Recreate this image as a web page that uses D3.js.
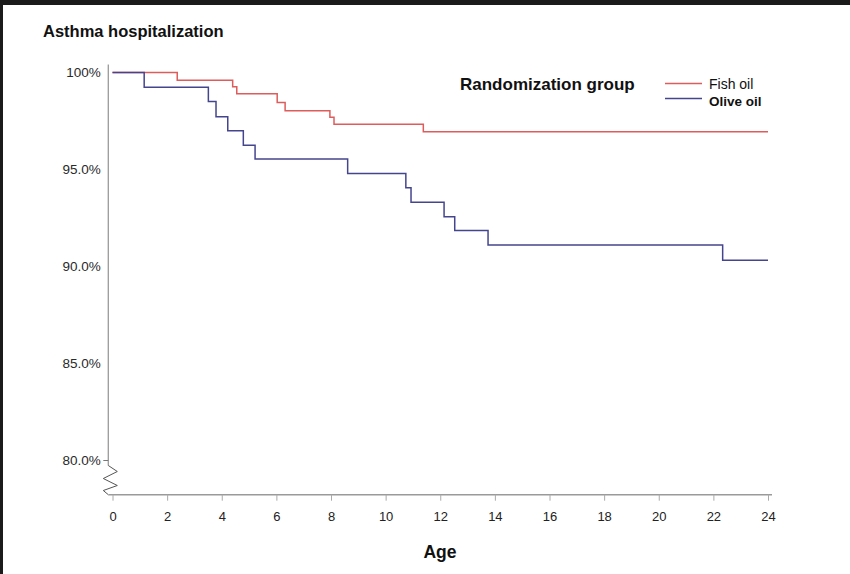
<!DOCTYPE html>
<html>
<head>
<meta charset="utf-8">
<script src="https://cdn.jsdelivr.net/npm/d3@7"></script>
<style>
	body { margin: 0; background: #1b1b1b; }
	svg { display: block; }
	text { font-family: "Liberation Sans", Arial, sans-serif; }
</style>
</head>
<body>
<figure id="asthmaKM" style="margin:0"></figure>
<script>
// ages where a step happens, and survival (% free of hospitalization) after the step
var fishAge = [ 0, 2.37, 4.40, 4.55, 6.03, 6.32, 7.96, 8.11, 11.38, 24 ];
var fishPct = [ 100, 99.60, 99.27, 98.90, 98.46, 98.03, 97.69, 97.33, 96.95, 96.95 ];

var oliveAge = [ 0, 1.16, 3.51, 3.79, 4.22, 4.79, 5.22, 8.61, 10.74, 10.93, 12.14, 12.53, 13.75, 22.34, 24 ];
var olivePct = [ 100, 99.24, 98.50, 97.72, 97.00, 96.25, 95.54, 94.80, 94.06, 93.31, 92.57, 91.85, 91.11, 90.32, 90.32 ];

var ageTicks = [ 0, 2, 4, 6, 8, 10, 12, 14, 16, 18, 20, 22, 24 ];
var pctTicks = [ 100, 95, 90, 85, 80 ];
var pctLabels = [ "100%", "95.0%", "90.0%", "85.0%", "80.0%" ];

var groupNames = [ "Fish oil", "Olive oil" ];

function asthmaChart() {

	var dimensions = {
		width: 850,
		height: 574,
		margin: {
			top: 72.5,
			right: 82,
			bottom: 113.5,
			left: 112.5,
		}
	};
	dimensions.boundedWidth = dimensions.width - dimensions.margin.left - dimensions.margin.right
	dimensions.boundedHeight = dimensions.height - dimensions.margin.top - dimensions.margin.bottom

	var svg = d3.select( "figure#asthmaKM" )
		.append( "svg" )
		.attr( "width", dimensions.width )
		.attr( "height", dimensions.height );

	// white page, the dark strip top/left is the screenshot frame
	svg.append( "rect" )
		.attr( "x", 3 )
		.attr( "y", 5 )
		.attr( "width", dimensions.width - 3 )
		.attr( "height", dimensions.height - 5 )
		.attr( "fill", "#ffffff" );

	var xScale = d3.scaleLinear()
		.domain( [ 0, 24 ] )
		.range( [ dimensions.margin.left, dimensions.margin.left + dimensions.boundedWidth ] );

	// 80% sits a bit above the x axis, the gap is the axis break
	var yScale = d3.scaleLinear()
		.domain( [ 80, 100 ] )
		.range( [ 460.5, dimensions.margin.top ] );

	var axisX = 108.3; // y axis is drawn a little left of age 0
	var axisY = 494.7;

	// title
	svg.append( "text" )
		.attr( "x", 43 )
		.attr( "y", 37 )
		.style( "font-size", "16.5px" )
		.style( "font-weight", "bold" )
		.style( "fill", "#111" )
		.text( "Asthma hospitalization" );

	// y axis line down to 80%, then the zigzag break
	svg.append( "line" )
		.attr( "x1", axisX ).attr( "x2", axisX )
		.attr( "y1", yScale( 100 ) - 8 ).attr( "y2", yScale( 80 ) + 5 )
		.attr( "stroke", "#9a9a9a" )
		.attr( "stroke-width", 1.3 );

	var y80 = yScale( 80 );
	var zig = [ [ 0, 5 ], [ 9, 11 ], [ -5, 18 ], [ 9, 25 ], [ -5, 30 ], [ 0, axisY - y80 ] ];
	svg.append( "path" )
		.attr( "d", d3.line()( zig.map( p => [ axisX + p[ 0 ], y80 + p[ 1 ] ] ) ) )
		.attr( "fill", "none" )
		.attr( "stroke", "#555" )
		.attr( "stroke-width", 1 );

	// small tick at 80%
	svg.append( "line" )
		.attr( "x1", axisX - 5 ).attr( "x2", axisX )
		.attr( "y1", y80 ).attr( "y2", y80 )
		.attr( "stroke", "#777" );

	var yAxis = svg.append( "g" )
		.attr( "class", "y_axis" )
		.attr( "transform", `translate(${axisX - 7.5},0)` )
		.call( d3.axisLeft( yScale )
			.tickValues( pctTicks )
			.tickFormat( ( d, i ) => pctLabels[ i ] )
			.tickSize( 0 )
			.tickPadding( 0 ) )
		.call( g => g.select( ".domain" ).remove() );

	yAxis.selectAll( "text" )
		.style( "font-size", "13.5px" )
		.style( "font-family", "'Liberation Sans', Arial, sans-serif" )
		.style( "fill", "#2a2a2a" );

	// x axis
	svg.append( "line" )
		.attr( "x1", axisX ).attr( "x2", 772 )
		.attr( "y1", axisY ).attr( "y2", axisY )
		.attr( "stroke", "#9a9a9a" )
		.attr( "stroke-width", 1.6 );

	var xAxis = svg.append( "g" )
		.attr( "class", "x_axis" )
		.attr( "transform", `translate(0,${axisY})` )
		.call( d3.axisBottom( xScale )
			.tickValues( ageTicks )
			.tickSize( 6 )
			.tickPadding( 11 ) )
		.call( g => g.select( ".domain" ).remove() );

	xAxis.selectAll( "line" )
		.attr( "stroke", "#aaa" );

	xAxis.selectAll( "text" )
		.style( "font-size", "13px" )
		.style( "font-family", "'Liberation Sans', Arial, sans-serif" )
		.style( "fill", "#222" );

	svg.append( "text" )
		.attr( "x", 440 )
		.attr( "y", 558 )
		.attr( "text-anchor", "middle" )
		.style( "font-size", "17.5px" )
		.style( "font-weight", "bold" )
		.style( "fill", "#111" )
		.text( "Age" );

	// step curves
	var stepLine = d3.line()
		.x( d => xScale( d[ 0 ] ) )
		.y( d => yScale( d[ 1 ] ) )
		.curve( d3.curveStepAfter );

	var series = [
		{ name: groupNames[ 0 ], pts: d3.zip( fishAge, fishPct ), color: "#de5c5c" },
		{ name: groupNames[ 1 ], pts: d3.zip( oliveAge, olivePct ), color: "#45458f" }
	];

	svg.selectAll( "path.km" )
		.data( series )
		.enter()
		.append( "path" )
		.attr( "class", "km" )
		.attr( "d", d => stepLine( d.pts ) )
		.attr( "fill", "none" )
		.attr( "stroke", d => d.color )
		.attr( "stroke-width", 1.5 );

	// legend
	svg.append( "text" )
		.attr( "x", 460 )
		.attr( "y", 90 )
		.style( "font-size", "17px" )
		.style( "font-weight", "bold" )
		.style( "fill", "#111" )
		.text( "Randomization group" );

	var legend = svg.selectAll( "g.legend" )
		.data( series )
		.enter()
		.append( "g" )
		.attr( "class", "legend" )
		.attr( "transform", ( d, i ) => `translate(665,${83.5 + i * 15})` );

	legend.append( "line" )
		.attr( "x1", 0 ).attr( "x2", 37 )
		.attr( "stroke", d => d.color )
		.attr( "stroke-width", 1.3 );

	legend.append( "text" )
		.attr( "x", 44 )
		.attr( "y", ( d, i ) => i === 0 ? 5 : 7 )
		.style( "font-size", ( d, i ) => i === 0 ? "14px" : "13.5px" )
		.style( "font-weight", ( d, i ) => i === 0 ? "normal" : "bold" )
		.style( "fill", "#111" )
		.text( d => d.name );
}

asthmaChart();
</script>
</body>
</html>
